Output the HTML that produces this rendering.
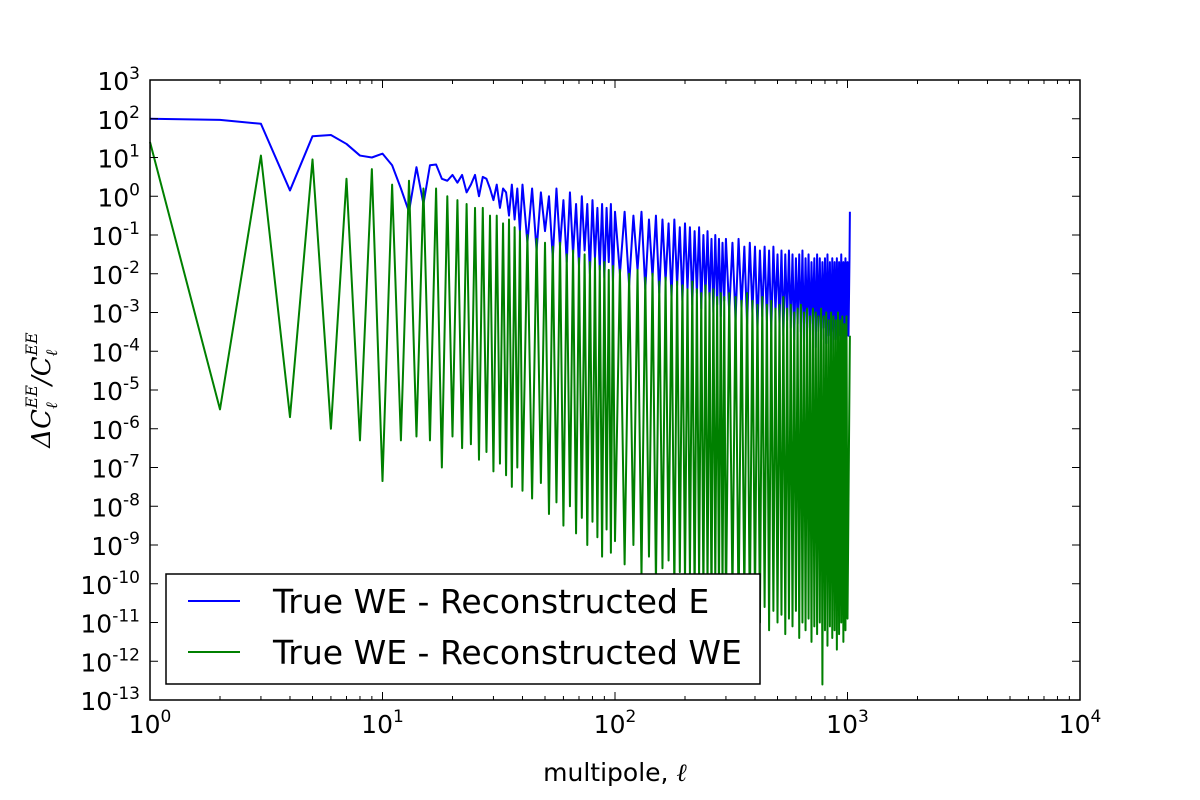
<!DOCTYPE html>
<html><head><meta charset="utf-8"><style>
html,body{margin:0;padding:0;background:#fff;}
svg{display:block;font-family:"DejaVu Sans","Liberation Sans",sans-serif;}
</style></head><body>
<svg id="chart" width="1200" height="800" xmlns="http://www.w3.org/2000/svg">
<rect x="0" y="0" width="1200" height="800" fill="#fff"/>
<g id="marks"></g>
<g id="axes"></g>
<rect x="150" y="80" width="930" height="620" fill="none" stroke="#000" stroke-width="1.5"/>
<text x="615" y="781" font-size="25" text-anchor="middle">multipole, <tspan font-family="DejaVu Serif, serif" font-style="italic">ℓ</tspan></text>
<g transform="translate(50,390) rotate(-90)">
<text x="0" y="0" font-size="26" text-anchor="middle" font-family="DejaVu Serif, serif" font-style="italic">ΔC<tspan font-size="16" dy="7">ℓ</tspan><tspan font-size="16" dx="-6" dy="-20">EE</tspan><tspan dy="13">/C</tspan><tspan font-size="16" dy="7">ℓ</tspan><tspan font-size="16" dx="-6" dy="-20">EE</tspan></text>
</g>
<g>
<rect x="166" y="574" width="594" height="110" fill="#fff" stroke="#000" stroke-width="1.5"/>
<line x1="188" y1="601" x2="240" y2="601" stroke="#0000ff" stroke-width="2"/>
<text x="273" y="613" font-size="33">True WE - Reconstructed E</text>
<line x1="188" y1="652" x2="240" y2="652" stroke="#008000" stroke-width="2"/>
<text x="273" y="664" font-size="33">True WE - Reconstructed WE</text>
</g>
</svg>
<script>
const ells = [1,2,3,4,5,6,7,8,9,10,11,12,13,14,15,16,17,18,19,20,21,22,23,24,25,26,27,28,29,30,31,32,33,34,35,36,37,38,39,40,
42,44,46,48,50,52,54,56,58,60,62,64,66,68,70,72,74,76,78,80,82,84,86,88,90,92,94,96,98,100,
105,110,115,120,125,130,135,140,145,150,155,160,165,170,175,180,185,190,195,200,205,210,215,220,225,230,235,240,245,250,255,260,265,270,275,280,285,290,295,300,
310,320,330,340,350,360,370,380,390,400,410,420,430,440,450,460,470,480,490,500,510,520,530,540,550,560,570,580,590,600,610,620,630,640,650,660,670,680,690,700,710,720,730,740,750,760,770,780,790,800,810,820,830,840,850,860,870,880,890,900,910,920,930,940,950,960,970,980,990,1000,1010,1020,1024];
// log10 values
const blueLog = [2.0,1.97,1.87,0.15,1.55,1.58,1.35,1.05,1.0,1.1,0.8,0.2,-0.4,0.75,-0.2,0.8,0.82,0.45,0.4,0.55,0.35,0.55,0.1,0.3,0.55,0.0,0.5,0.45,0.2,-0.1,0.3,-0.3,0.2,0.1,-0.5,0.3,-0.6,0.2,-0.9,0.3,
-1.2,0.2,-1.4,0.1,-0.9,0.0,-1.6,0.2,-1.3,-0.1,-1.7,0.1,-1.5,-0.2,-1.8,0.0,-1.4,-0.2,-2.0,-0.1,-1.6,-0.3,-1.9,-0.2,-2.1,-0.3,-1.7,-0.2,-2.2,-0.4,
-2.0,-0.4,-2.3,-0.5,-1.9,-0.4,-2.4,-0.6,-2.1,-0.5,-2.5,-0.6,-2.2,-0.7,-2.6,-0.6,-2.3,-0.8,-2.7,-0.7,-2.4,-0.8,-2.8,-0.9,-2.5,-0.8,-2.9,-1.0,-2.6,-0.9,-2.7,-1.1,-3.0,-1.0,-2.8,-1.1,-3.1,-1.2,-2.7,-1.1,
-3.0,-1.2,-3.2,-1.1,-2.9,-1.3,-3.3,-1.2,-3.0,-1.3,-3.4,-1.4,-3.1,-1.3,-3.2,-1.4,-3.5,-1.3,-3.0,-1.5,-3.3,-1.4,-3.6,-1.5,-3.2,-1.4,-3.4,-1.5,-3.7,-1.6,-3.3,-1.5,-3.5,-1.4,-3.8,-1.6,-3.4,-1.5,-3.6,-1.7,-3.3,-1.6,-3.9,-1.5,-3.5,-1.6,-3.7,-1.7,-3.4,-1.6,-3.8,-1.5,-3.6,-1.7,-4.0,-1.6,-3.5,-1.7,-3.7,-1.6,-3.9,-1.7,-3.6,-1.5,-3.8,-1.7,-3.5,-1.6,-3.7,-1.7,-3.6,-1.6,-0.4];
const greenLog = [1.4,-5.5,1.05,-5.7,0.95,-6.0,0.45,-6.3,0.7,-7.35,0.3,-6.3,0.4,-6.2,0.2,-6.3,0.2,-7.0,0.0,-6.2,-0.1,-6.5,-0.2,-6.4,-0.3,-6.8,-0.3,-6.6,-0.5,-7.1,-0.5,-6.9,-0.7,-7.2,-0.6,-7.5,-0.8,-7.0,-0.9,-7.6,
-1.0,-7.8,-1.1,-7.4,-1.2,-8.2,-1.3,-7.9,-1.2,-8.5,-1.5,-8.0,-1.4,-8.7,-1.6,-8.3,-1.5,-9.0,-1.7,-8.4,-1.6,-8.8,-1.8,-9.3,-1.7,-8.6,-1.9,-9.2,-1.8,-8.9,
-1.9,-9.5,-2.0,-9.0,-1.9,-9.8,-2.1,-9.3,-2.0,-10.0,-2.2,-9.6,-2.1,-9.4,-2.3,-10.2,-2.2,-9.7,-2.3,-10.0,-2.4,-9.8,-2.2,-10.4,-2.4,-9.9,-2.5,-10.3,-2.3,-10.1,-2.5,-10.6,-2.4,-10.0,-2.6,-10.4,-2.5,-10.2,-2.6,-10.7,
-2.5,-10.3,-2.6,-10.8,-2.7,-10.4,-2.5,-10.9,-2.7,-10.5,-2.8,-11.0,-2.6,-10.6,-2.8,-11.2,-2.7,-10.7,-2.9,-11.0,-2.8,-10.8,-2.6,-11.3,-2.9,-10.9,-2.8,-11.1,-3.0,-10.7,-2.9,-11.4,-2.8,-11.0,-3.0,-11.2,-2.9,-10.9,-3.1,-11.5,-2.9,-11.1,-3.0,-11.3,-3.1,-11.0,-2.9,-12.6,-3.1,-11.2,-3.0,-11.6,-3.2,-11.1,-3.0,-11.4,-3.1,-11.2,-3.2,-11.7,-3.0,-11.3,-3.2,-11.0,-3.1,-11.5,-3.3,-11.2,-3.1,-10.9,-3.6];
const xDecades = [0,1,2,3,4];
const yDecades = [3,2,1,0,-1,-2,-3,-4,-5,-6,-7,-8,-9,-10,-11,-12,-13];

const X0=150,X1=1080,Y0=80,Y1=700;
function xs(l){return X0+(Math.log10(l)-0)/4*(X1-X0);}
function ys(lg){return Y0+(3-lg)/16*(Y1-Y0);}
const NS="http://www.w3.org/2000/svg";
const marks=document.getElementById('marks'), axes=document.getElementById('axes');
function mk(t,a,p){const e=document.createElementNS(NS,t);for(const k in a)e.setAttribute(k,a[k]);p.appendChild(e);return e;}

function series(vals,color,name){
  const n=Math.min(ells.length,vals.length);
  let d='';
  for(let i=0;i<n;i++){const l=(i===n-1&&vals.length<ells.length)?ells[ells.length-1]:ells[i];d+=(i?'L':'M')+xs(l).toFixed(2)+','+ys(vals[i]).toFixed(2);}
  const p=mk('path',{d:d,fill:'none',stroke:color,'stroke-width':2,'stroke-linejoin':'round'},marks);
  
  
}
series(blueLog,'#0000ff','series-blue');
series(greenLog,'#008000','series-green');

xDecades.forEach(dx=>{
  const x=xs(Math.pow(10,dx));
  mk('line',{x1:x,y1:Y1,x2:x,y2:Y1-8,stroke:'#000','stroke-width':1},axes);
  mk('line',{x1:x,y1:Y0,x2:x,y2:Y0+8,stroke:'#000','stroke-width':1},axes);
  const t=mk('text',{x:x,y:733,'font-size':25,'text-anchor':'middle'},axes);
  
  
  t.innerHTML='10<tspan font-size="17" dy="-11">'+dx+'</tspan>';
  if(dx<4){for(let m=2;m<=9;m++){const xm=xs(m*Math.pow(10,dx));
    mk('line',{x1:xm,y1:Y1,x2:xm,y2:Y1-4,stroke:'#000','stroke-width':1},axes);
    mk('line',{x1:xm,y1:Y0,x2:xm,y2:Y0+4,stroke:'#000','stroke-width':1},axes);}}
});
yDecades.forEach(dy=>{
  const y=ys(dy);
  mk('line',{x1:X0,y1:y,x2:X0+8,y2:y,stroke:'#000','stroke-width':1},axes);
  mk('line',{x1:X1,y1:y,x2:X1-8,y2:y,stroke:'#000','stroke-width':1},axes);
  const t=mk('text',{x:140,y:y+10,'font-size':25,'text-anchor':'end'},axes);
  
  
  t.innerHTML='10<tspan font-size="17" dy="-11">'+dy+'</tspan>';
});
</script>
</body></html>
